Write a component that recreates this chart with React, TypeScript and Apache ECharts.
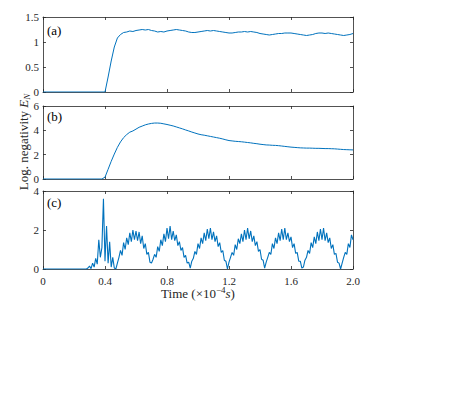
import React, { useEffect, useRef } from 'react';
import * as echarts from 'echarts';

const SERIF = '"Liberation Serif", "Times New Roman", serif';
const LINE_COLOR = '#0072BD';
const AXIS_COLOR = '#262626';

// x tick labels (shared time axis, ×10^-4 s)
const X_TICKS = ['0', '0.4', '0.8', '1.2', '1.6', '2.0'];
const PANEL_LABELS = ['(a)', '(b)', '(c)'];

// Panel (a): values from t = 0.40, step 0.02 (zero before)
const A_T0 = 0.4;
const A_STEP = 0.02;
const aValues = [
  0, 0.3, 0.62, 0.9, 1.08, 1.15, 1.19, 1.2, 1.22, 1.21,
  1.23, 1.24, 1.25, 1.24, 1.25, 1.23, 1.22, 1.2, 1.21, 1.2,
  1.22, 1.23, 1.24, 1.25, 1.24, 1.23, 1.22, 1.2, 1.19, 1.19,
  1.2, 1.21, 1.22, 1.23, 1.22, 1.23, 1.22, 1.21, 1.2, 1.19,
  1.18, 1.18, 1.19, 1.2, 1.2, 1.21, 1.2, 1.21, 1.2, 1.19,
  1.17, 1.16, 1.15, 1.14, 1.15, 1.16, 1.17, 1.17, 1.18, 1.18,
  1.18, 1.17, 1.16, 1.15, 1.14, 1.13, 1.14, 1.15, 1.17, 1.18,
  1.18, 1.17, 1.18, 1.17, 1.16, 1.15, 1.14, 1.13, 1.14, 1.15,
  1.17,
];

// Panel (b): values from t = 0.38, step 0.02 (zero before)
const B_T0 = 0.38;
const B_STEP = 0.02;
const bValues = [
  0, 0.15, 0.8, 1.45, 2.05, 2.6, 3.05, 3.4, 3.65, 3.85,
  3.95, 4.1, 4.25, 4.35, 4.45, 4.52, 4.57, 4.6, 4.6, 4.58,
  4.53, 4.48, 4.42, 4.36, 4.28, 4.2, 4.12, 4.03, 3.95, 3.86,
  3.78, 3.7, 3.64, 3.6, 3.55, 3.5, 3.45, 3.4, 3.35, 3.29,
  3.22, 3.16, 3.13, 3.1, 3.08, 3.06, 3.03, 3.0, 2.97, 2.93,
  2.9, 2.86, 2.83, 2.8, 2.79, 2.77, 2.76, 2.74, 2.71, 2.68,
  2.65, 2.62, 2.6, 2.58, 2.56, 2.55, 2.54, 2.54, 2.53, 2.52,
  2.52, 2.51, 2.5, 2.5, 2.49, 2.48, 2.46, 2.44, 2.42, 2.41,
  2.4, 2.39,
];

// Panel (c): values from t = 0.28, step 0.01 (zero before)
const C_T0 = 0.28;
const C_STEP = 0.01;
const cValues = [
  // 0.28 - 0.47
  0, 0.05, 0.15, 0.02, 0.3, 0.1, 0.55, 0.25, 1.5, 0.6,
  1.1, 3.6, 0.4, 2.2, 0.3, 1.4, 0.1, 0.6, 0.05, 0,
  // 0.48 - 0.70
  0.3, 0.6, 0.95, 0.7, 1.35, 1.0, 1.6, 1.25, 1.85, 1.4,
  2.0, 1.5, 1.95, 1.45, 1.9, 1.3, 1.7, 1.05, 1.3, 0.75,
  0.85, 0.35, 0.3,
  // 0.71 - 0.95
  0.5, 0.75, 0.6, 1.15, 0.9, 1.5, 1.2, 1.8, 1.4, 2.1,
  1.55, 2.2, 1.5, 1.95, 1.45, 1.75, 1.2, 1.4, 0.95, 1.1,
  0.6, 0.7, 0.3, 0.35, 0.05,
  // 0.96 - 1.19
  0.4, 0.55, 0.9, 0.75, 1.3, 1.05, 1.6, 1.3, 1.85, 1.45,
  2.05, 1.55, 2.1, 1.5, 1.9, 1.4, 1.7, 1.15, 1.35, 0.85,
  0.95, 0.45, 0.4, 0.0,
  // 1.20 - 1.43
  0.35, 0.6, 0.85, 0.7, 1.25, 1.0, 1.55, 1.3, 1.8, 1.4,
  2.0, 1.5, 2.1, 1.55, 1.95, 1.4, 1.7, 1.2, 1.4, 0.9,
  1.0, 0.5, 0.45, 0.05,
  // 1.44 - 1.68
  0.35, 0.6, 0.85, 0.75, 1.3, 1.05, 1.6, 1.3, 1.85, 1.45,
  2.05, 1.5, 2.1, 1.5, 1.85, 1.4, 1.65, 1.1, 1.3, 0.8,
  0.85, 0.4, 0.4, 0.05, 0.1,
  // 1.69 - 1.92
  0.45, 0.6, 0.95, 0.8, 1.35, 1.1, 1.65, 1.3, 1.9, 1.45,
  2.05, 1.5, 2.1, 1.45, 1.85, 1.35, 1.6, 1.05, 1.25, 0.75,
  0.8, 0.35, 0.3, 0.0,
  // 1.93 - 2.00
  0.3, 0.6, 0.85, 0.75, 1.3, 1.1, 1.75, 1.5,
];

const Y_RANGES = [
  { max: 1.5, interval: 0.5 },
  { max: 6, interval: 2 },
  { max: 4, interval: 2 },
];

const GRIDS = [
  { left: 43, top: 17, width: 310, height: 75 },
  { left: 43, top: 106, width: 310, height: 73 },
  { left: 43, top: 191, width: 310, height: 78 },
];

const toSeries = (t0: number, step: number, vals: number[]) => {
  const out: [number, number][] = [[0, 0]];
  vals.forEach((v, i) => out.push([+(t0 + i * step).toFixed(4), v]));
  return out;
};

export default function App() {
  const ref = useRef<HTMLDivElement>(null);

  useEffect(() => {
    if (!ref.current) return;
    const chart = echarts.init(ref.current, undefined, { renderer: 'svg' });

    const axisLine = { show: true, onZero: false, lineStyle: { color: AXIS_COLOR, width: 0.8 } };
    const axisTick = { show: true, inside: true, length: 3, lineStyle: { color: AXIS_COLOR, width: 0.8 } };

    const xAxes: any[] = [];
    [0, 1, 2].forEach((i) => {
      xAxes.push({
        type: 'value',
        gridIndex: i,
        position: 'bottom',
        min: 0,
        max: 2,
        interval: 0.4,
        axisLine,
        axisTick,
        splitLine: { show: false },
        axisLabel: {
          show: i === 2,
          fontFamily: SERIF,
          fontSize: 11,
          color: AXIS_COLOR,
          margin: 6,
          formatter: (v: number) => X_TICKS[Math.round(v / 0.4)] ?? '',
        },
      });
    });
    [0, 1, 2].forEach((i) => {
      xAxes.push({
        type: 'value',
        gridIndex: i,
        position: 'top',
        min: 0,
        max: 2,
        interval: 0.4,
        axisLine,
        axisTick,
        splitLine: { show: false },
        axisLabel: { show: false },
      });
    });

    const yAxes: any[] = [];
    [0, 1, 2].forEach((i) => {
      yAxes.push({
        type: 'value',
        gridIndex: i,
        position: 'left',
        min: 0,
        max: Y_RANGES[i].max,
        interval: Y_RANGES[i].interval,
        axisLine,
        axisTick,
        splitLine: { show: false },
        axisLabel: {
          show: true,
          fontFamily: SERIF,
          fontSize: 11,
          color: AXIS_COLOR,
          margin: 4,
        },
      });
    });
    [0, 1, 2].forEach((i) => {
      yAxes.push({
        type: 'value',
        gridIndex: i,
        position: 'right',
        min: 0,
        max: Y_RANGES[i].max,
        interval: Y_RANGES[i].interval,
        axisLine,
        axisTick,
        splitLine: { show: false },
        axisLabel: { show: false },
      });
    });

    const datasets = [
      toSeries(A_T0, A_STEP, aValues),
      toSeries(B_T0, B_STEP, bValues),
      toSeries(C_T0, C_STEP, cValues),
    ];

    const series = datasets.map((d, i) => ({
      type: 'line',
      xAxisIndex: i,
      yAxisIndex: i,
      data: d,
      symbol: 'none',
      showSymbol: false,
      silent: true,
      clip: true,
      lineStyle: { color: LINE_COLOR, width: i === 2 ? 1.1 : 1 },
      itemStyle: { color: LINE_COLOR },
    }));

    const labelYs = [30.5, 116.5, 202.5];

    const graphic: any[] = PANEL_LABELS.map((txt, i) => ({
      type: 'text',
      x: 47,
      y: labelYs[i],
      silent: true,
      style: {
        text: txt,
        fontFamily: SERIF,
        fontSize: 13,
        fill: '#000',
        align: 'left',
        verticalAlign: 'middle',
      },
    }));

    graphic.push({
      type: 'text',
      x: 23,
      y: 142,
      rotation: Math.PI / 2,
      silent: true,
      style: {
        text: 'Log. negativity {i|E}{sub|N}',
        fontFamily: SERIF,
        fontSize: 13,
        lineHeight: 16,
        fill: '#262626',
        align: 'center',
        verticalAlign: 'middle',
        rich: {
          i: { fontFamily: SERIF, fontSize: 13, fontStyle: 'italic', fill: '#262626', lineHeight: 16 },
          sub: { fontFamily: SERIF, fontSize: 9, fontStyle: 'italic', fill: '#262626', lineHeight: 9, verticalAlign: 'bottom' },
        },
      },
    });

    graphic.push({
      type: 'text',
      x: 198,
      y: 293,
      silent: true,
      style: {
        text: 'Time (×10{sup|−4}{i|s})',
        fontFamily: SERIF,
        fontSize: 13,
        lineHeight: 16,
        fill: '#262626',
        align: 'center',
        verticalAlign: 'middle',
        rich: {
          sup: { fontFamily: SERIF, fontSize: 9, fill: '#262626', lineHeight: 9, verticalAlign: 'top' },
          i: { fontFamily: SERIF, fontSize: 13, fontStyle: 'italic', fill: '#262626', lineHeight: 16 },
        },
      },
    });

    chart.setOption({
      animation: false,
      backgroundColor: '#ffffff',
      grid: GRIDS.map((g) => ({ ...g, containLabel: false })),
      xAxis: xAxes,
      yAxis: yAxes,
      series,
      graphic,
    });

    return () => chart.dispose();
  }, []);

  return (
    <div
      ref={ref}
      style={{ position: 'fixed', left: 0, top: 0, width: 463, height: 395 }}
    />
  );
}
